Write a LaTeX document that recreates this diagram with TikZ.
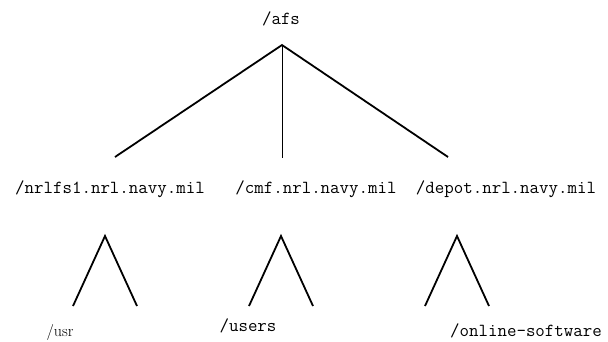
\documentclass[tikz,border=0pt]{standalone}
\usepackage{fontspec}

\tikzset{
  dirname/.style  = {font=\ttfamily\fontsize{18.4}{22}\selectfont, inner sep=0pt},
  smalldir/.style = {dirname, font=\rmfamily\fontsize{16}{19}\selectfont},
  branch/.style   = {line width=1.8pt},
  mount/.style    = {line width=0.8pt}
}

\begin{document}
\begin{tikzpicture}[x=1pt, y=-1pt]
\useasboundingbox (0,0) rectangle (608,341);

% root of the tree
\node[dirname] (afs) at (281,19) {/afs};
\coordinate (top) at (282,45);

% cells
\node[dirname] (nrlfs) at (110,189) {/nrlfs1.nrl.navy.mil};
\node[dirname] (cmf)   at (316,189) {/cmf.nrl.navy.mil};
\node[dirname] (depot) at (506,189) {/depot.nrl.navy.mil};

\coordinate (nrlfsTop) at (115,157);
\coordinate (cmfTop)   at (282,158);
\coordinate (depotTop) at (448,157);

\draw[branch] (nrlfsTop) -- (top) -- (depotTop);
\draw[mount]  (top) -- (cmfTop);

% subtrees under each cell
\foreach \name/\x in {usrTree/105, usersTree/281, softTree/457} {
  \coordinate (\name) at (\x,236);
  \draw[branch] ([xshift=-32pt, yshift=-70pt]\name) -- (\name)
                -- ([xshift=32pt, yshift=-70pt]\name);
}

\node[smalldir] (usr)   at (60,332)  {/usr};
\node[dirname]  (users) at (248,326) {/users};
\node[dirname]  (soft)  at (526,331) {/online-software};
\end{tikzpicture}
\end{document}
